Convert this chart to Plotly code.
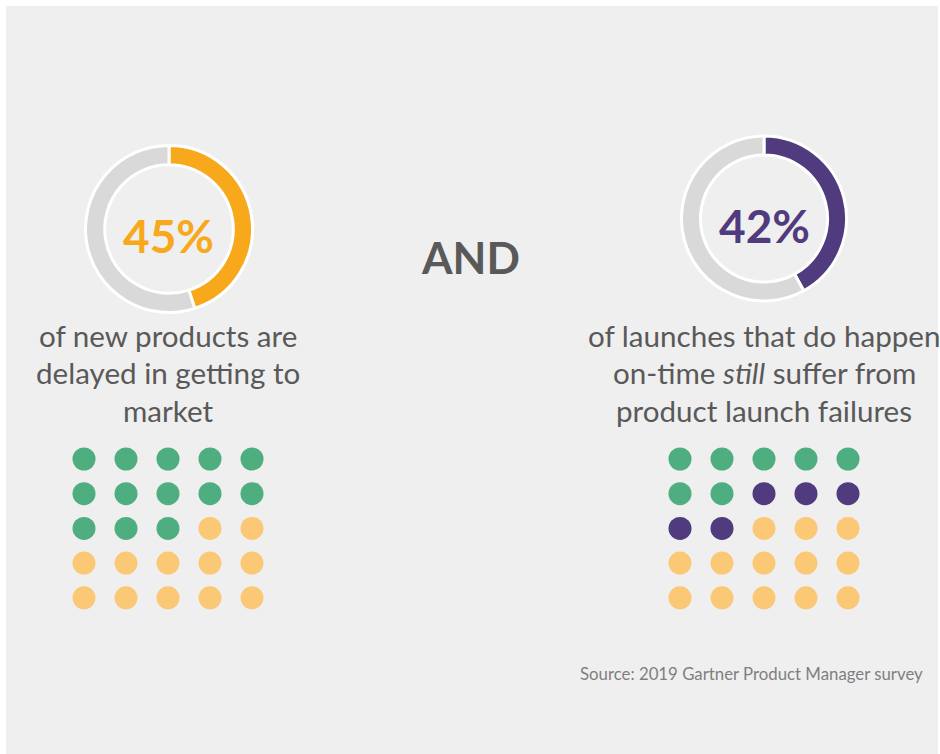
import plotly.graph_objects as go

W, H = 940, 754

# ---- data ----
donut_labels = ["Share", "Rest"]
left_values = [45, 55]
right_values = [42, 58]
left_pct_text = "45%"
right_pct_text = "42%"

left_caption = ["of new products are", "delayed in getting to", "market"]
right_caption = ["of launches that do happen", "on-time <i>still</i> suffer from", "product launch failures"]
middle_word = "AND"
source_text = "Source: 2019 Gartner Product Manager survey"

# dot grids (5x5), category per dot in reading order
left_dot_counts = {"green": 13, "yellow": 12}
right_dot_counts = {"green": 7, "purple": 5, "yellow": 13}

# ---- styles ----
BG = "#efefef"
TRACK = "#d9d9d9"
ORANGE = "#f7a81b"
PURPLE = "#4f3b7d"
GREEN = "#4fae80"
YELLOW = "#fbc876"
TEXT = "#595959"
FONT = "Lato"

fig = go.Figure()

# background panel
fig.add_shape(type="rect", xref="x", yref="y", x0=6, x1=938, y0=6, y1=754,
              fillcolor=BG, line_width=0, layer="below")


def add_donut(values, color, cx, cy, r):
    fig.add_trace(go.Pie(
        labels=donut_labels, values=values, hole=0.77, sort=False,
        direction="clockwise", rotation=0,
        marker=dict(colors=[color, TRACK], line=dict(color="white", width=3)),
        textinfo="none", hoverinfo="skip", showlegend=False,
        domain=dict(x=[(cx - r) / W, (cx + r) / W],
                    y=[1 - (cy + r) / H, 1 - (cy - r) / H]),
    ))


add_donut(left_values, ORANGE, 169, 229, 83.5)
add_donut(right_values, PURPLE, 764, 218.5, 82.5)

colors_map = {"green": GREEN, "yellow": YELLOW, "purple": PURPLE}


def add_grid(counts, x0):
    cats = []
    for k, n in counts.items():
        cats += [k] * n
    xs, ys, cs = [], [], []
    for i, c in enumerate(cats):
        row, col = divmod(i, 5)
        xs.append(x0 + col * 42)
        ys.append(459 + row * 34.7)
        cs.append(colors_map[c])
    fig.add_trace(go.Scatter(x=xs, y=ys, mode="markers",
                             marker=dict(size=23, color=cs, line_width=0),
                             hoverinfo="skip", showlegend=False))


add_grid(left_dot_counts, 84)
add_grid(right_dot_counts, 680)

ann = []
ann.append(dict(x=168, y=235, text=f"<b>{left_pct_text}</b>", font=dict(size=46, color=ORANGE, family=FONT)))
ann.append(dict(x=764, y=225, text=f"<b>{right_pct_text}</b>", font=dict(size=46, color=PURPLE, family=FONT)))
ann.append(dict(x=470, y=257, text=f"<b>{middle_word}</b>", font=dict(size=44, color=TEXT, family=FONT)))
for i, line in enumerate(left_caption):
    ann.append(dict(x=168, y=335 + i * 37.5, text=line, font=dict(size=29.6, color=TEXT, family=FONT)))
for i, line in enumerate(right_caption):
    ann.append(dict(x=764, y=335 + i * 37.5, text=line, font=dict(size=29.6, color=TEXT, family=FONT)))
ann.append(dict(x=925, y=673, text=source_text, xanchor="right",
                font=dict(size=16.8, color="#7f7f7f", family=FONT)))
for a in ann:
    a.setdefault("xanchor", "center")
    a.update(xref="x", yref="y", yanchor="middle", showarrow=False)

fig.update_layout(
    width=W, height=H, margin=dict(l=0, r=0, t=0, b=0),
    paper_bgcolor="white", plot_bgcolor="rgba(0,0,0,0)",
    xaxis=dict(range=[0, W], visible=False, domain=[0, 1], fixedrange=True),
    yaxis=dict(range=[H, 0], visible=False, domain=[0, 1], fixedrange=True),
    annotations=ann, font=dict(family=FONT),
)

fig.write_html("out.html")
